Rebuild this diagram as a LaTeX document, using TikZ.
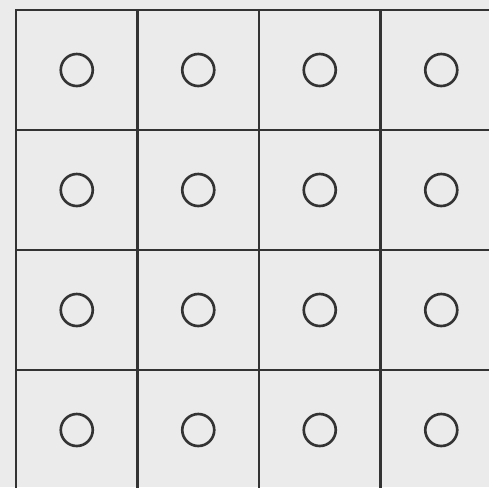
\documentclass[tikz,border=0pt]{standalone}
\usetikzlibrary{positioning}
\definecolor{paper}{HTML}{EBEBEB}
\definecolor{ink}{HTML}{333333}
\begin{document}
\begin{tikzpicture}[
    cell/.style={draw=ink, line width=0.8pt, rectangle, minimum width=1.215cm, minimum height=1.2cm, inner sep=0pt},
    hole/.style={draw=ink, line width=0.75pt, circle, minimum size=0.32cm, inner sep=0pt}]
    \useasboundingbox (0,0) rectangle (4.89,4.87);
    \fill[paper] (0,0) rectangle (4.89,4.87);
    \clip (0,0) rectangle (4.89,4.87);
    % 4x4 grid, one hole in each cell
    \foreach \r in {0,...,3}{
        \foreach \c in {0,...,3}{
            \node[cell] (cell-\r-\c) at ({0.16+1.215*(\c+0.5)}, {4.77-1.2*(\r+0.5)}) {};
            \node[hole] (hole-\r-\c) at (cell-\r-\c.center) {};
        }
    }
\end{tikzpicture}
\end{document}
